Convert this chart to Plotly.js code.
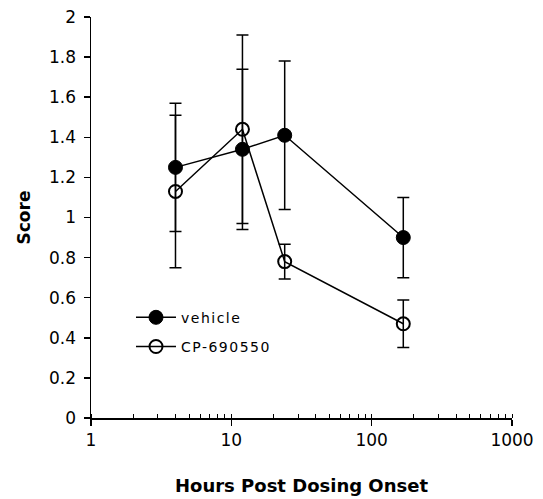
<!DOCTYPE html>
<html>
<head>
<meta charset="utf-8">
<script src="https://cdn.plot.ly/plotly-3.0.1.min.js"></script>
<style>html,body{margin:0;padding:0;background:#fff;}#chart{width:543px;height:499px;}
.legendtext{letter-spacing:1.5px;}</style>
</head>
<body>
<div id="chart"></div>
<script>
const hours = [4, 12, 24, 168];
const vehicleScore = [1.25, 1.34, 1.41, 0.90];
const vehicleErr = [0.32, 0.40, 0.37, 0.20];
const cpScore = [1.13, 1.44, 0.78, 0.47];
const cpErr = [0.38, 0.47, 0.087, 0.118];
const seriesNames = ['vehicle', 'CP-690550'];
const xTickVals = [1, 10, 100, 1000];
const xTickText = ['1', '10', '100', '1000'];

const font = 'DejaVu Sans, Liberation Sans, Arial, sans-serif';
const traces = [
  {
    x: hours, y: vehicleScore, name: seriesNames[0], legendgroup: 'a', type: 'scatter', mode: 'lines+markers',
    line: {color: '#000', width: 1.5},
    marker: {symbol: 'circle', size: 14, color: '#000', line: {color: '#000', width: 1}},
    error_y: {type: 'data', array: vehicleErr, visible: true, color: '#000', thickness: 1.5, width: 6}
  },
  {
    x: hours, y: cpScore, name: seriesNames[1], legendgroup: 'b', type: 'scatter', mode: 'lines+markers',
    line: {color: '#000', width: 1.5},
    marker: {symbol: 'circle-open', size: 13, color: '#000', line: {color: '#000', width: 2}},
    error_y: {type: 'data', array: cpErr, visible: true, color: '#000', thickness: 1.5, width: 6}
  }
];

const layout = {
  width: 543, height: 499,
  margin: {l: 91, r: 31, t: 17, b: 81},
  paper_bgcolor: '#fff', plot_bgcolor: '#fff',
  showlegend: true,
  font: {family: font, size: 17, color: '#000'},
  xaxis: {
    type: 'log', range: [0, 3],
    tickvals: xTickVals, ticktext: xTickText,
    ticks: 'outside', ticklen: 6, tickwidth: 1.5, tickcolor: '#000',
    minor: {ticks: 'inside', ticklen: 4, tickwidth: 1, tickcolor: '#000', dtick: 'D1', showgrid: false},
    showline: true, linecolor: '#000', linewidth: 1.5,
    showgrid: false, zeroline: false,
    tickfont: {family: font, size: 17, color: '#000'},
    title: {text: '<b>Hours Post Dosing Onset</b>', font: {family: font, size: 18, color: '#000'}, standoff: 30}
  },
  yaxis: {
    range: [0, 2], dtick: 0.2, tick0: 0,
    ticks: 'outside', ticklen: 6, tickwidth: 1.5, tickcolor: '#000',
    ticklabelstandoff: 4,
    showline: true, linecolor: '#000', linewidth: 1.5,
    showgrid: false, zeroline: false,
    tickfont: {family: font, size: 17, color: '#000'},
    title: {text: '<b>Score</b>', font: {family: font, size: 17, color: '#000'}, standoff: 14}
  },
  legend: {
    x: 0.095, y: 0.29, xanchor: 'left', yanchor: 'top',
    bgcolor: 'rgba(0,0,0,0)', borderwidth: 0,
    font: {family: font, size: 14, color: '#000'},
    itemwidth: 40, traceorder: 'grouped', tracegroupgap: 8
  }
};

Plotly.newPlot('chart', traces, layout, {displayModeBar: false, staticPlot: true});
</script>
</body>
</html>
